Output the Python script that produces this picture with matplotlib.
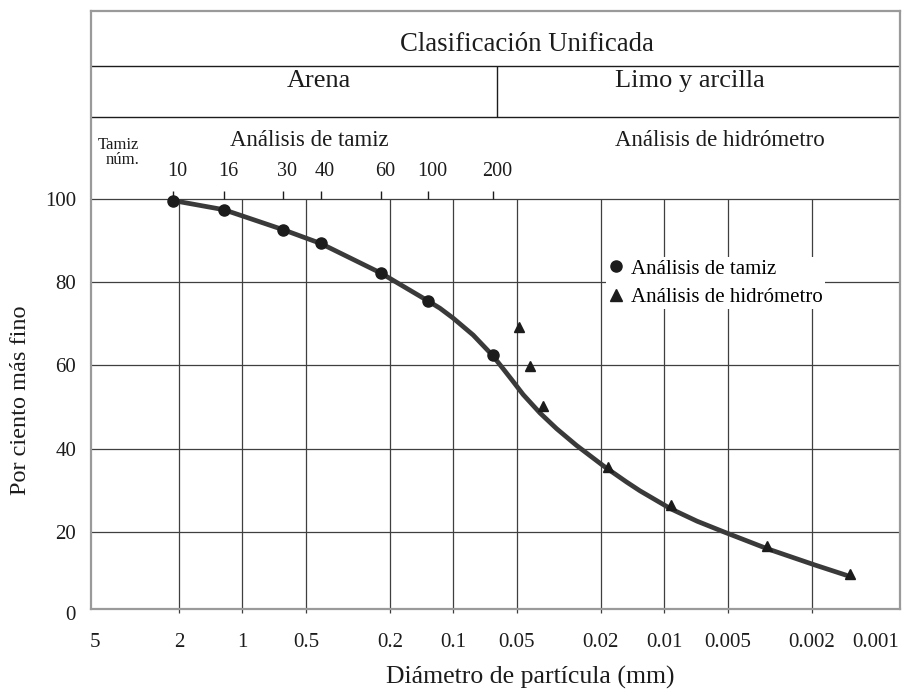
"""
Curva granulométrica: análisis de tamiz + análisis de hidrómetro.
"""
import numpy as np
import matplotlib
matplotlib.use('Agg')  # Non-interactive backend
import matplotlib.pyplot as plt
from matplotlib.lines import Line2D

plt.rcParams['font.family'] = ['Liberation Serif', 'DejaVu Serif']

# --- Data ------------------------------------------------------------------
# Sieve analysis: particle diameter (mm) and percent finer
sieve_nums = ['10', '16', '30', '40', '60', '100', '200']
sieve_d = [2.13, 1.224, 0.641, 0.426, 0.221, 0.132, 0.0652]
sieve_pct = [99.6, 97.4, 92.6, 89.3, 82.2, 75.5, 62.4]

# Hydrometer analysis
hydro_d = [0.0488, 0.0434, 0.0378, 0.01846, 0.00935, 0.00326, 0.00132]
hydro_pct = [69.2, 59.9, 50.3, 35.7, 26.5, 16.7, 9.85]

# Grain size distribution curve
curve_d = [2.13, 1.224, 0.641, 0.426, 0.221, 0.132, 0.1159, 0.1002, 0.0806,
           0.0652, 0.0581, 0.0524, 0.0467, 0.0389, 0.0324, 0.0261, 0.01935,
           0.0151, 0.01306, 0.00935, 0.00700, 0.00521, 0.00326, 0.00194,
           0.00137]
curve_pct = [99.6, 97.4, 92.6, 89.3, 82.2, 75.5, 73.75, 71.35, 67.3,
             62.4, 59.2, 56.3, 53.0, 48.6, 44.8, 40.8, 35.8,
             32.0, 29.9, 25.6, 22.6, 20.0, 16.0, 12.1,
             9.6]

# Axis ticks / grid
grid_d = [2, 1, 0.5, 0.2, 0.1, 0.05, 0.02, 0.01, 0.005, 0.002]
xtick_d = [5, 2, 1, 0.5, 0.2, 0.1, 0.05, 0.02, 0.01, 0.005, 0.002, 0.001]
xtick_labels = ['5', '2', '1', '0.5', '0.2', '0.1', '0.05', '0.02', '0.01',
                '0.005', '0.002', '0.001']
ytick_vals = [20, 40, 60, 80, 100]

# Header (Unified classification) layout, in data units of percent axis
SAND_SILT_D = 0.0624
ROW1_BOTTOM = 132.0
ROW2_BOTTOM = 119.7
Y_BOTTOM, Y_TOP = 1.5, 145.2

GRID_COLOR = '#3f3f3f'
FRAME_COLOR = '#9a9a9a'
INK = '#1c1c1c'
CURVE_COLOR = '#3a3a3a'

fig = plt.figure(figsize=(9.12, 6.95), dpi=100)
ax = fig.add_axes([0.0995, 0.1237, 0.8873, 0.8609])

ax.set_xscale('log')
ax.set_xlim(5.24, 0.000764)
ax.set_ylim(Y_BOTTOM, Y_TOP)

# Grid: vertical lines only inside the 0-100 area, with a small stub below
ax.vlines(grid_d, 0.5, 100, colors=GRID_COLOR, lw=0.9, clip_on=False, zorder=1)
for v in ytick_vals:
    ax.axhline(v, color=GRID_COLOR, lw=0.9, zorder=1)

# Header rows
ax.axhline(ROW1_BOTTOM, color=INK, lw=1.0)
ax.axhline(ROW2_BOTTOM, color=INK, lw=1.0)
ax.vlines([SAND_SILT_D], ROW2_BOTTOM, ROW1_BOTTOM, colors=INK, lw=1.0)

ytr = ax.get_yaxis_transform()  # x in axes fraction, y in data
ax.text(0.5387, 137.2, 'Clasificación Unificada', transform=ytr,
        ha='center', va='center', fontsize=19.3, color=INK)
ax.text(0.2817, 128.2, 'Arena', transform=ytr,
        ha='center', va='center', fontsize=19, color=INK)
ax.text(0.7405, 128.2, 'Limo y arcilla', transform=ytr,
        ha='center', va='center', fontsize=19, color=INK)
ax.text(0.2697, 114.0, 'Análisis de tamiz', transform=ytr,
        ha='center', va='center', fontsize=16.5, color=INK)
ax.text(0.7770, 114.0, 'Análisis de hidrómetro', transform=ytr,
        ha='center', va='center', fontsize=16.5, color=INK)
ax.text(0.0343, 113.0, 'Tamiz', transform=ytr,
        ha='center', va='center', fontsize=12, color=INK)
ax.text(0.0388, 109.4, 'núm.', transform=ytr,
        ha='center', va='center', fontsize=12, color=INK)

# Sieve number ticks above the 100 line
ax.vlines(sieve_d, 100, 101.8, colors=INK, lw=1.0)
for d, lab in zip(sieve_d, sieve_nums):
    ax.annotate(lab, (d, 106.5), xytext=(3, 0), textcoords='offset points',
                ha='center', va='center', fontsize=14.5, color=INK)

# Curve and measured points
ax.plot(curve_d, curve_pct, color=CURVE_COLOR, lw=3.4,
        solid_joinstyle='round', solid_capstyle='round', zorder=3)
ax.plot(sieve_d, sieve_pct, 'o', color=INK, ms=8, zorder=4)
ax.plot(hydro_d, hydro_pct, '^', color=INK, ms=7.5, zorder=4)

# Axes ticks
ax.set_xticks(xtick_d)
ax.set_xticklabels(xtick_labels)
ax.xaxis.set_minor_locator(matplotlib.ticker.NullLocator())
ax.set_yticks(ytick_vals)
ax.tick_params(axis='x', length=0, pad=17, labelsize=15, labelcolor=INK)
ax.tick_params(axis='y', length=0, pad=10.5, labelsize=15, labelcolor=INK)
ax.text(-0.0182, 0, '0', transform=ytr, ha='right', va='center',
        fontsize=15, color=INK)

ax.set_xlabel('Diámetro de partícula (mm)', fontsize=18.5, color=INK,
              va='center')
ax.xaxis.set_label_coords(0.5428, -0.1137)
ax.set_ylabel('Por ciento más fino', fontsize=17.5, color=INK, va='center')
ax.yaxis.set_label_coords(-0.0874, 0.349)

for sp in ax.spines.values():
    sp.set_color(FRAME_COLOR)
    sp.set_linewidth(1.6)

# Legend
handles = [
    Line2D([], [], ls='none', marker='o', color=INK, ms=8),
    Line2D([], [], ls='none', marker='^', color=INK, ms=8),
]
leg = ax.legend(handles, ['Análisis de tamiz', 'Análisis de hidrómetro'],
                loc='center left', bbox_to_anchor=(0.6367, 0.545),
                fontsize=15, frameon=True, framealpha=1, edgecolor='none',
                facecolor='white', fancybox=False, borderpad=0.1,
                handlelength=0.8, handletextpad=0.32, labelspacing=0.42,
                borderaxespad=0)
leg.set_zorder(5)

fig.savefig('out.png', dpi=100)
